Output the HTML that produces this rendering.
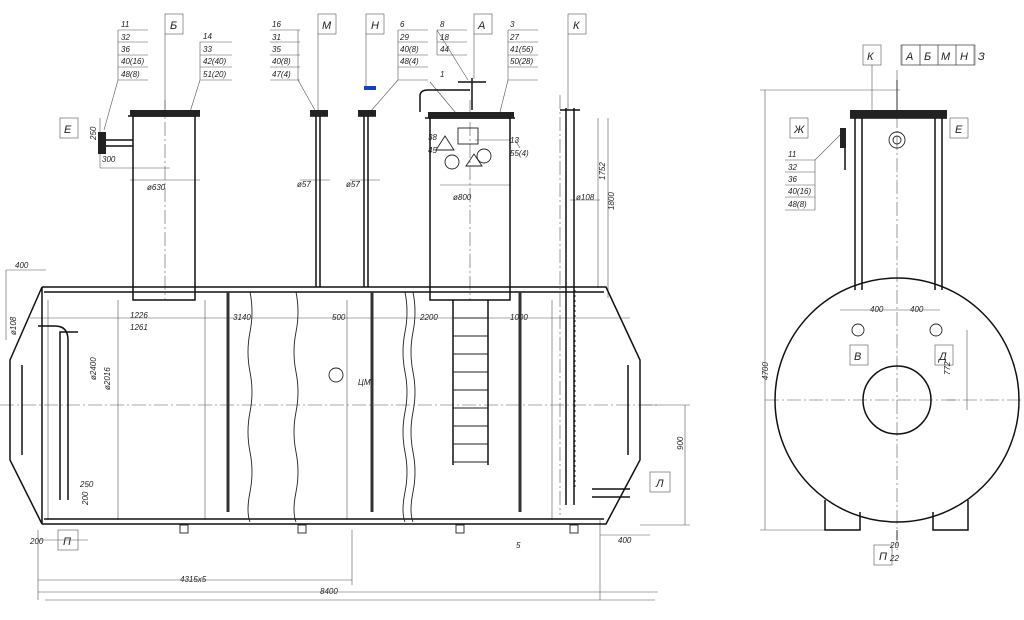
<!DOCTYPE html>
<html><head><meta charset="utf-8"><style>
html,body{margin:0;padding:0;background:#fff}
svg{display:block}
text{font-family:"Liberation Sans",sans-serif;font-style:italic;font-size:8px;fill:#222}
.t{stroke:#111;stroke-width:1.5;fill:none}
.m{stroke:#222;stroke-width:0.9;fill:none}
.h{stroke:#555;stroke-width:0.6;fill:none}
.c{stroke:#555;stroke-width:0.6;fill:none;stroke-dasharray:14 3 2 3}
.big{font-size:11px}
</style></head><body>
<svg width="1024" height="620" viewBox="0 0 1024 620" xmlns="http://www.w3.org/2000/svg">
<g class="h">
<path d="M118 30h30M118 42h30M118 55h30M118 67h30M118 80h30M118 30v50"/>
<path d="M200 42h32M200 55h32M200 67h32M200 80h32M200 42v38"/>
<path d="M270 30h30M270 42h30M270 55h30M270 67h30M270 80h30M298 30v50"/>
<path d="M398 30h30M398 42h30M398 55h30M398 67h30M398 80h30M398 30v50"/>
<path d="M437 30h30M437 42h30M437 55h30M437 30v25"/>
<path d="M508 30h30M508 42h30M508 55h30M508 67h30M508 80h30M508 30v50"/>
<path d="M118 80L104 130M200 80L190 112M298 80L316 112M398 80L370 112M437 30L468 80M460 118L430 82M508 80L500 112M515 140L520 148M475 140L510 140"/>
<rect x="165" y="14" width="18" height="20"/><rect x="318" y="14" width="18" height="20"/><rect x="366" y="14" width="18" height="20"/><rect x="474" y="14" width="18" height="20"/><rect x="568" y="14" width="18" height="20"/>
<path d="M165 34v80M318 34v80M366 34v55M474 34v45M568 34v75"/>
<rect x="60" y="118" width="18" height="20"/><rect x="650" y="472" width="20" height="20"/><rect x="58" y="530" width="20" height="20"/>
<rect x="863" y="45" width="18" height="20"/><rect x="902" y="45" width="18" height="20"/><rect x="920" y="45" width="18" height="20"/><rect x="938" y="45" width="18" height="20"/><rect x="956" y="45" width="18" height="20"/><rect x="901" y="45" width="74" height="20"/>
<rect x="790" y="118" width="18" height="20"/><rect x="950" y="118" width="18" height="20"/><rect x="850" y="345" width="18" height="20"/><rect x="935" y="345" width="18" height="20"/><rect x="874" y="545" width="18" height="20"/>
<path d="M872 65v50M785 160h30M785 172h30M785 185h30M785 197h30M785 210h30M815 160v50M815 160L840 135"/>
</g>
<g>
<text x="121" y="27">11</text><text x="121" y="40">32</text><text x="121" y="52">36</text><text x="121" y="64">40(16)</text><text x="121" y="77">48(8)</text>
<text x="203" y="39">14</text><text x="203" y="52">33</text><text x="203" y="64">42(40)</text><text x="203" y="77">51(20)</text>
<text x="272" y="27">16</text><text x="272" y="40">31</text><text x="272" y="52">35</text><text x="272" y="64">40(8)</text><text x="272" y="77">47(4)</text>
<text x="400" y="27">6</text><text x="400" y="40">29</text><text x="400" y="52">40(8)</text><text x="400" y="64">48(4)</text>
<text x="440" y="27">8</text><text x="440" y="40">18</text><text x="440" y="52">44</text><text x="440" y="77">1</text>
<text x="510" y="27">3</text><text x="510" y="40">27</text><text x="510" y="52">41(56)</text><text x="510" y="64">50(28)</text>
<text x="510" y="143">13</text><text x="510" y="156">55(4)</text><text x="428" y="140">38</text><text x="428" y="153">45</text>
<text x="788" y="157">11</text><text x="788" y="170">32</text><text x="788" y="182">36</text><text x="788" y="194">40(16)</text><text x="788" y="207">48(8)</text>
<text x="890" y="548">20</text><text x="890" y="561">22</text>
<text class="big" x="170" y="29">Б</text><text class="big" x="322" y="29">М</text><text class="big" x="371" y="29">Н</text><text class="big" x="478" y="29">А</text><text class="big" x="573" y="29">К</text>
<text class="big" x="64" y="133">Е</text><text class="big" x="656" y="487">Л</text><text class="big" x="63" y="545">П</text>
<text class="big" x="867" y="60">К</text><text class="big" x="906" y="60">А</text><text class="big" x="924" y="60">Б</text><text class="big" x="941" y="60">М</text><text class="big" x="960" y="60">Н</text><text class="big" x="978" y="60">З</text>
<text class="big" x="794" y="133">Ж</text><text class="big" x="955" y="133">Е</text><text class="big" x="854" y="360">В</text><text class="big" x="939" y="360">Д</text><text class="big" x="879" y="560">П</text>
<text x="102" y="162">300</text><text x="147" y="190">ø630</text><text x="453" y="200">ø800</text><text x="297" y="187">ø57</text><text x="346" y="187">ø57</text><text x="576" y="200">ø108</text>
<text x="15" y="268">400</text><text x="130" y="318">1226</text><text x="130" y="330">1261</text><text x="233" y="320">3140</text><text x="332" y="320">500</text><text x="420" y="320">2200</text><text x="510" y="320">1000</text>
<text x="80" y="487">250</text><text x="30" y="544">200</text><text x="618" y="543">400</text><text x="180" y="582">4315х5</text><text x="320" y="594">8400</text>
<text x="870" y="312">400</text><text x="910" y="312">400</text><text x="358" y="385">ЦМ</text><text x="516" y="548">5</text>
</g>
<g font-size="7" transform="rotate(-90)">
<text x="-140" y="96">250</text><text x="-180" y="605">1752</text><text x="-210" y="614">1800</text><text x="-380" y="96">ø2400</text><text x="-390" y="110">ø2016</text><text x="-450" y="683">900</text><text x="-380" y="768">4700</text><text x="-375" y="950">772</text><text x="-505" y="88">200</text><text x="-335" y="16">ø108</text>
</g>
<g class="h">
<path d="M6 270h40M6 270v70M598 118v170M608 118v180M685 405v120M640 405h50M640 525h50M600 535h50M38 540h50M38 530v70M352 530v55M38 580h314M38 592h620M600 520v80M45 600h610"/>
<path d="M765 90v440M760 90h140M760 530h100M840 310h100M947 400h10M967 330v80M100 118v50M100 168h70M130 180h70M440 185h70M300 180h30M350 180h30M570 200h30"/>
<path d="M30 318h600M48 300v220M118 300v220M205 300v220M347 300v220M552 300v220M430 300h80"/>
</g>
<g class="c"><path d="M0 405h660M165 100v200M470 100v200M897 70v480M765 400h265M560 95v420"/></g>
<g class="t">
<path d="M42 287L10 360V460L42 524Z M42 287H606L640 360V460L606 524H42"/>
<path d="M44 292H604M44 519H604M22 365V455M628 365V455"/>
<rect x="133" y="116" width="62" height="184"/>
<rect x="430" y="118" width="80" height="182"/>
<path d="M128 116h72M425 118h90M316 116v171M320 116v171M364 116v171M368 116v171M566 108v397M574 108v397M560 110h20M310 116h18M358 116h18"/>
<path d="M78 332H60V500M68 340V500M68 340Q68 326 55 326H38M592 489h38M592 497h38"/>
<path d="M103 140h30M103 146h30M420 112V96Q420 90 428 90H470M472 110V78M458 82h28"/>
<path d="M453 300V465M488 300V465"/>
</g>
<g class="m">
<path d="M453 318h35M453 336h35M453 354h35M453 372h35M453 390h35M453 408h35M453 426h35M453 444h35M453 462h35"/>
<path d="M228 292v220M372 292v220M520 292v220" stroke-width="3" stroke="#333"/>
<path d="M250 292q4 20 0 40t0 40 0 40 0 40 0 40 0 30M296 292q4 20 0 40t0 40 0 40 0 40 0 40 0 30M405 292q4 20 0 40t0 40 0 40 0 40 0 40 0 30M413 292q4 20 0 40t0 40 0 40 0 40 0 40 0 30"/>
<path d="M575 290v200" stroke-dasharray="2 3"/>
<rect x="458" y="128" width="20" height="16"/>
<circle cx="336" cy="375" r="7"/><circle cx="452" cy="162" r="7"/><circle cx="484" cy="156" r="7"/>
<path d="M436 150l9-14 9 14zM466 166l8-12 8 12z"/>
<rect x="180" y="525" width="8" height="8"/><rect x="298" y="525" width="8" height="8"/><rect x="456" y="525" width="8" height="8"/><rect x="570" y="525" width="8" height="8"/>
</g>
<path d="M364 88h12" stroke="#1a3fbf" stroke-width="4"/>
<g fill="#222"><rect x="130" y="110" width="70" height="6"/><rect x="428" y="112" width="86" height="6"/><rect x="98" y="132" width="8" height="22"/><rect x="310" y="110" width="18" height="6"/><rect x="358" y="110" width="18" height="6"/></g>
<g class="t">
<circle cx="897" cy="400" r="122"/>
<circle cx="897" cy="400" r="34"/>
<path d="M855 118V290M862 118V290M935 118V290M942 118V290M850 118h97M825 500v30h35v-18M968 500v30h-35v-18M845 130v40"/>
</g>
<g class="m"><circle cx="858" cy="330" r="6"/><circle cx="936" cy="330" r="6"/><circle cx="897" cy="140" r="8"/><circle cx="897" cy="140" r="4"/><path d="M897 80V112M897 530v10"/></g>
<g fill="#222"><rect x="850" y="110" width="97" height="8"/><rect x="840" y="128" width="6" height="20"/></g>
</svg>
</body></html>
